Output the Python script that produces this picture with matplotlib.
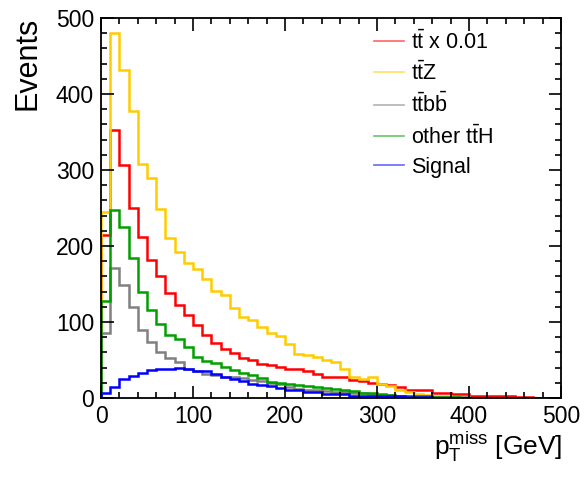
import matplotlib
matplotlib.use("Agg")
import matplotlib.pyplot as plt
from matplotlib.lines import Line2D
from matplotlib.ticker import MultipleLocator
import numpy as np

plt.rcParams['font.family'] = ['Liberation Sans', 'DejaVu Sans']
plt.rcParams['mathtext.fontset'] = 'custom'
plt.rcParams['mathtext.rm'] = 'Liberation Sans'
plt.rcParams['mathtext.it'] = 'Liberation Sans'

# 10 GeV bins from 0 to 500
edges = np.arange(0, 510, 10)

ttbar = [215, 353, 307, 250, 212, 182, 160, 138, 122, 109, 96, 83, 72, 65, 59, 53, 50, 45, 43, 41,
         38, 38, 36, 32, 28, 28, 27, 24, 22, 20, 18, 17, 14, 11, 10, 10, 7, 7, 5, 5,
         3, 3, 2, 2, 2, 1, 1, 0.5, 0.5, 0.5]
ttz = [245, 480, 432, 377, 308, 289, 249, 210, 192, 177, 170, 156, 141, 135, 119, 107, 103, 93, 86, 82,
       71, 58, 57, 54, 50, 48, 38, 28, 25, 27, 19, 16, 10, 8, 5, 4, 2, 2, 1, 1,
       0.5, 0.5, 0.3, 0.3, 0.2, 0.2, 0.1, 0.1, 0.1, 0.1]
ttbb = [85, 171, 149, 120, 90, 74, 60, 52, 48, 38, 36, 32, 30, 28, 27, 26, 24, 22, 20, 18,
        14, 12, 11, 10, 9, 8, 8, 7, 6, 5, 4, 4, 3, 3, 2, 2, 1, 1, 1, 1,
        0.5, 0.5, 0.3, 0.3, 0.2, 0.2, 0.1, 0.1, 0.1, 0.1]
other_tth = [127, 247, 225, 184, 140, 116, 98, 83, 78, 67, 54, 49, 46, 41, 37, 33, 30, 26, 21, 20,
             19, 17, 16, 15, 13, 12, 10, 9, 7, 6, 5, 4, 3, 3, 2, 2, 1, 1, 1, 0.5,
             0.5, 0.3, 0.3, 0.2, 0.1, 0.1, 0.1, 0.1, 0, 0]
signal = [6, 15, 25, 29, 33, 37, 38, 38, 39, 38, 36, 35, 31, 27, 25, 22, 18, 17, 16, 13,
          10.5, 10, 8, 8, 5, 5, 5, 3, 3, 3, 3, 2, 2, 1, 1, 1, 0.5, 0.5, 0.5, 0.3,
          0.3, 0.2, 0.2, 0.1, 0.1, 0.1, 0.1, 0.1, 0.1, 0.1]

labels = [r'$\mathrm{t\bar{t}}$ x 0.01', r'$\mathrm{t\bar{t}Z}$', r'$\mathrm{t\bar{t}b\bar{b}}$',
          r'other $\mathrm{t\bar{t}H}$', 'Signal']
colors = ['#ff0000', '#ffcc00', '#808080', '#00a000', '#0000ff']
series = [ttbar, ttz, ttbb, other_tth, signal]

fig = plt.figure(figsize=(5.88, 4.78), dpi=100)
ax = fig.add_axes([101/588, 80/478, 460/588, 380/478])

for vals, c in zip(series, colors):
    ax.stairs(vals, edges, color=c, lw=1.8, baseline=0)

ax.set_xlim(0, 500)
ax.set_ylim(0, 500)
ax.xaxis.set_major_locator(MultipleLocator(100))
ax.xaxis.set_minor_locator(MultipleLocator(20))
ax.yaxis.set_major_locator(MultipleLocator(100))
ax.yaxis.set_minor_locator(MultipleLocator(20))
ax.tick_params(which='both', direction='in', top=True, right=True, width=1.2, labelsize=16.5)
ax.tick_params(which='major', length=9, pad=5)
ax.tick_params(which='minor', length=4.5)
for s in ax.spines.values():
    s.set_linewidth(1.3)

fig.text(0.022, 0.965, 'Events', rotation=90, ha='left', va='top', fontsize=22)
fig.text(562/588, 0.03, r'$\mathrm{p_{T}^{miss}}$ [GeV]', ha='right', va='bottom', fontsize=19)

handles = [Line2D([], [], color=c, lw=1.2, alpha=0.6) for c in colors]
ax.legend(handles, labels, loc='upper left', bbox_to_anchor=(0.575, 0.99), frameon=False,
          fontsize=15.5, handlelength=1.4, handletextpad=0.3, labelspacing=0.38, borderaxespad=0)

fig.savefig('out.png', dpi=100)
